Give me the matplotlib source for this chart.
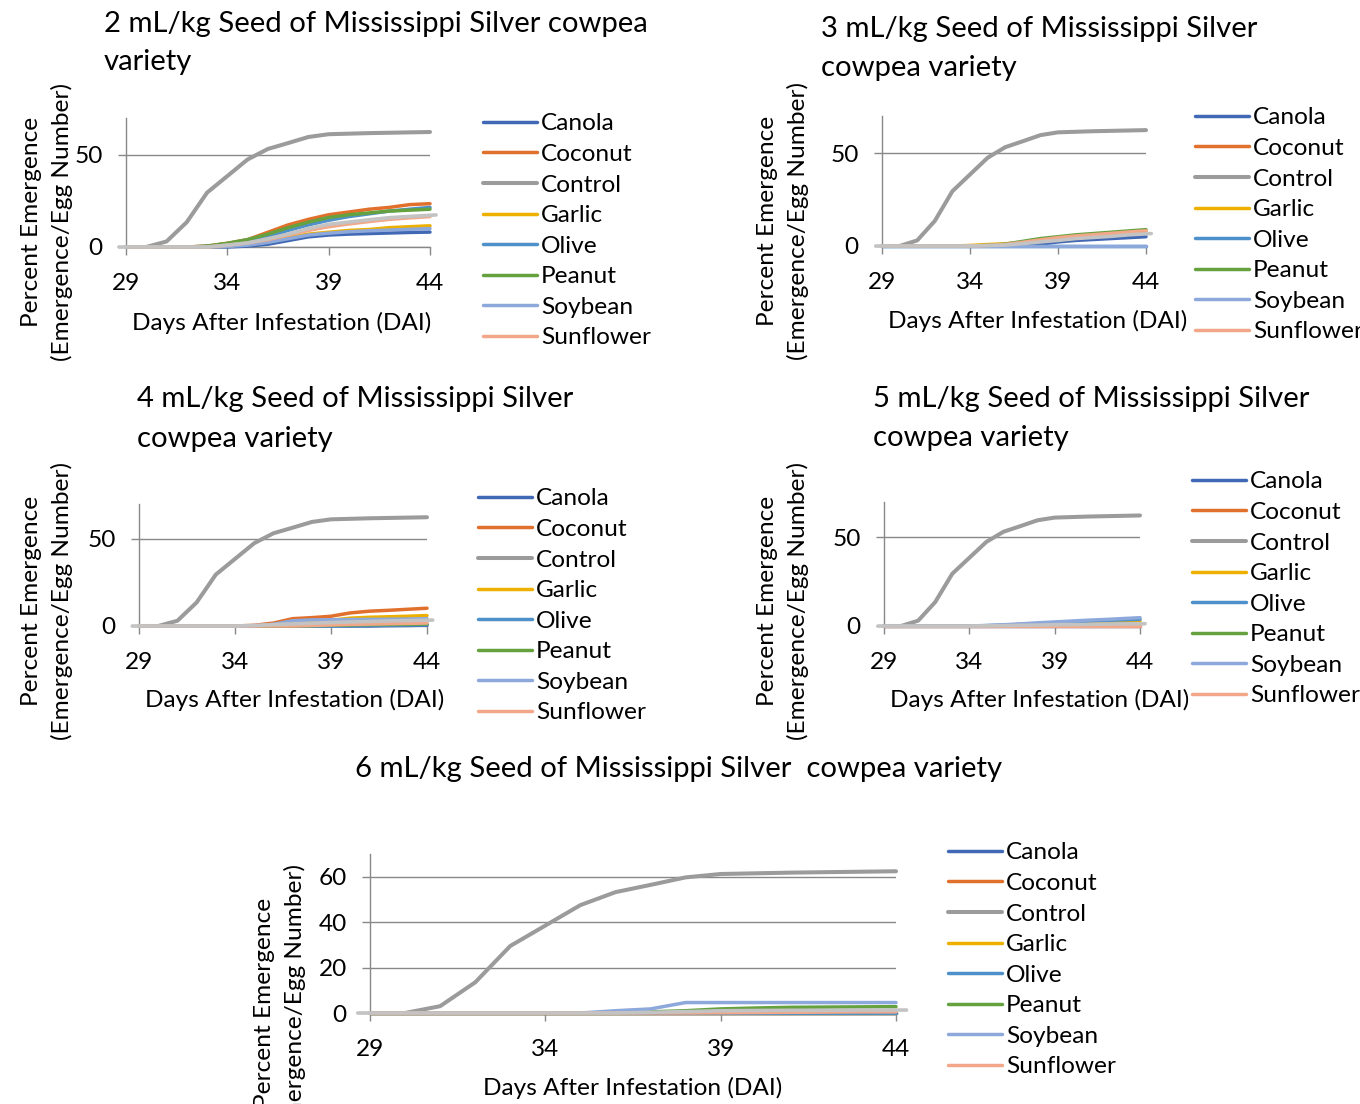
import numpy as np
import matplotlib
matplotlib.use("Agg")
import matplotlib.pyplot as plt
from matplotlib.textpath import TextPath
from matplotlib.font_manager import FontProperties

# ---------------- data ----------------
days = [29, 30, 31, 32, 33, 34, 35, 36, 37, 38, 39, 40, 41, 42, 43, 44]
series_names = ["Canola", "Coconut", "Control", "Garlic", "Olive", "Peanut", "Soybean", "Sunflower"]
control = [0, 0, 3.0, 13.5, 29.5, 38.5, 47.5, 53.2, 56.4, 59.7, 61.2, 61.5, 61.8, 62.0, 62.2, 62.4]

# extra unlabeled light-grey series (appears in the charts, not in legend)
extra_days = [28.65, 30, 31, 32, 33, 34, 35, 36, 37, 38, 39, 40, 41, 42, 43, 44.3]

p2_canola    = [0, 0, 0, 0, 0, 0, 0.5, 1.5, 3.5, 5.5, 6.5, 7.0, 7.3, 7.6, 7.9, 8.1]
p2_coconut   = [0, 0, 0, 0, 0.5, 2.0, 4.0, 8.0, 12.0, 15.0, 17.5, 19.0, 20.5, 21.5, 23.0, 23.5]
p2_garlic    = [0, 0, 0, 0, 0, 0.5, 1.5, 3.0, 5.0, 7.0, 8.0, 9.0, 9.5, 10.5, 11.0, 11.5]
p2_olive     = [0, 0, 0, 0, 0.3, 1.5, 3.0, 5.5, 9.0, 12.0, 14.5, 16.5, 18.0, 19.5, 20.5, 21.5]
p2_peanut    = [0, 0, 0, 0, 0.5, 2.0, 4.0, 7.0, 10.5, 13.5, 16.0, 17.5, 18.5, 19.5, 20.0, 20.5]
p2_soybean   = [0, 0, 0, 0, 0, 0.3, 1.0, 2.5, 4.5, 6.5, 7.5, 8.3, 8.8, 9.2, 9.6, 10.0]
p2_sunflower = [0, 0, 0, 0, 0, 1.0, 2.2, 4.0, 6.5, 9.0, 11.0, 12.5, 13.8, 15.0, 15.8, 16.5]
p2_extra     = [0, 0, 0, 0, 0, 1.0, 2.2, 4.5, 7.0, 10.0, 12.3, 13.5, 14.8, 15.9, 16.6, 17.4]

p3_canola    = [0, 0, 0, 0, 0, 0, 0, 0, 0, 1.0, 2.2, 3.0, 3.5, 4.0, 4.5, 5.0]
p3_coconut   = [0, 0, 0, 0, 0, 0, 0.3, 0.8, 2.0, 3.2, 4.3, 5.2, 5.9, 6.5, 7.0, 7.5]
p3_garlic    = [0, 0, 0, 0, 0, 0.3, 0.8, 1.2, 2.0, 3.0, 4.0, 4.8, 5.5, 6.0, 6.5, 7.0]
p3_olive     = [0, 0, 0, 0, 0, 0, 0, 0, 0, 0, 0, 0, 0, 0, 0, 0]
p3_peanut    = [0, 0, 0, 0, 0, 0, 0.3, 1.0, 2.5, 4.0, 5.0, 6.0, 6.7, 7.4, 8.1, 8.8]
p3_soybean   = [0, 0, 0, 0, 0, 0, 0, 0, 0, 0, 0, 0, 0, 0, 0, 0]
p3_sunflower = [0, 0, 0, 0, 0, 0, 0.3, 0.8, 2.0, 3.3, 4.5, 5.4, 6.1, 6.8, 7.5, 8.2]
p3_extra     = [0, 0, 0, 0, 0, 0, 0.2, 0.5, 1.3, 2.2, 3.0, 4.0, 4.6, 5.2, 6.0, 6.7]

p4_canola    = [0, 0, 0, 0, 0, 0, 0, 0, 0, 0, 0, 0, 0, 0.2, 0.3, 0.5]
p4_coconut   = [0, 0, 0, 0, 0, 0, 0.4, 1.7, 4.2, 4.8, 5.6, 7.5, 8.5, 9.0, 9.6, 10.2]
p4_garlic    = [0, 0, 0, 0, 0, 0, 0, 0.5, 1.5, 2.5, 3.3, 4.5, 5.0, 5.3, 5.6, 6.0]
p4_olive     = [0, 0, 0, 0, 0, 0, 0, 0, 0, 0, 0, 0.2, 0.3, 0.5, 0.6, 0.8]
p4_peanut    = [0, 0, 0, 0, 0, 0, 0, 0, 0, 0.2, 0.4, 0.6, 0.8, 0.9, 1.0, 1.2]
p4_soybean   = [0, 0, 0, 0, 0, 0, 0, 1.0, 3.0, 3.5, 3.6, 3.7, 3.8, 3.9, 4.0, 4.2]
p4_sunflower = [0, 0, 0, 0, 0, 0, 0, 0, 0, 0.3, 0.6, 0.9, 1.1, 1.3, 1.5, 1.7]
p4_extra     = [0, 0, 0, 0, 0, 0, 0.3, 0.8, 1.2, 1.6, 2.0, 2.3, 2.6, 2.9, 3.1, 3.4]

p5_canola    = [0, 0, 0, 0, 0, 0, 0, 0, 0, 0, 0, 0, 0, 0, 0, 0]
p5_coconut   = [0, 0, 0, 0, 0, 0, 0, 0, 0, 0.1, 0.2, 0.3, 0.3, 0.4, 0.4, 0.5]
p5_garlic    = [0, 0, 0, 0, 0, 0, 0, 0, 0, 0.3, 0.7, 1.1, 1.5, 1.9, 2.3, 2.8]
p5_olive     = [0, 0, 0, 0, 0, 0, 0.2, 0.5, 0.9, 1.4, 1.9, 2.3, 2.8, 3.2, 3.5, 3.8]
p5_peanut    = [0, 0, 0, 0, 0, 0, 0, 0, 0.1, 0.2, 0.4, 0.5, 0.6, 0.8, 0.9, 1.0]
p5_soybean   = [0, 0, 0, 0, 0, 0, 0.3, 0.7, 1.2, 1.8, 2.3, 2.8, 3.3, 3.7, 4.2, 4.7]
p5_sunflower = [0, 0, 0, 0, 0, 0, 0, 0, 0, 0, 0, 0, 0, 0, 0, 0]
p5_extra     = [0, 0, 0, 0, 0, 0, 0.1, 0.2, 0.4, 0.5, 0.7, 0.8, 0.9, 1.1, 1.2, 1.3]

p6_canola    = [0, 0, 0, 0, 0, 0, 0, 0, 0, 0, 0, 0, 0, 0, 0, 0]
p6_coconut   = [0, 0, 0, 0, 0, 0, 0, 0, 0, 0, 0, 0, 0, 0, 0, 0]
p6_garlic    = [0, 0, 0, 0, 0, 0, 0, 0, 0, 0, 0, 0, 0, 0, 0, 0]
p6_olive     = [0, 0, 0, 0, 0, 0, 0, 0, 0, 0, 0, 0, 0, 0, 0, 0]
p6_peanut    = [0, 0, 0, 0, 0, 0, 0, 0, 0.5, 1.0, 1.8, 2.2, 2.5, 2.6, 2.7, 2.8]
p6_soybean   = [0, 0, 0, 0, 0, 0, 0, 1.0, 1.8, 4.6, 4.6, 4.6, 4.6, 4.6, 4.6, 4.6]
p6_sunflower = [0, 0, 0, 0, 0, 0, 0, 0, 0, 0, 0.1, 0.2, 0.3, 0.4, 0.5, 0.5]
p6_extra     = [0, 0, 0, 0, 0, 0, 0, 0, 0.3, 0.6, 1.0, 1.1, 1.2, 1.2, 1.3, 1.3]

titles = [
    ["2 mL/kg Seed of Mississippi Silver cowpea", "variety"],
    ["3 mL/kg Seed of Mississippi Silver", "cowpea variety"],
    ["4 mL/kg Seed of Mississippi Silver", "cowpea variety"],
    ["5 mL/kg Seed of Mississippi Silver", "cowpea variety"],
    ["6 mL/kg Seed of Mississippi Silver  cowpea variety"],
]
xlabel = "Days After Infestation (DAI)"
ylabel = "Percent Emergence\n(Emergence/Egg Number)"
xticks = [29, 34, 39, 44]

panels = [
    dict(canola=p2_canola, coconut=p2_coconut, garlic=p2_garlic, olive=p2_olive,
         peanut=p2_peanut, soybean=p2_soybean, sunflower=p2_sunflower, extra=p2_extra),
    dict(canola=p3_canola, coconut=p3_coconut, garlic=p3_garlic, olive=p3_olive,
         peanut=p3_peanut, soybean=p3_soybean, sunflower=p3_sunflower, extra=p3_extra),
    dict(canola=p4_canola, coconut=p4_coconut, garlic=p4_garlic, olive=p4_olive,
         peanut=p4_peanut, soybean=p4_soybean, sunflower=p4_sunflower, extra=p4_extra),
    dict(canola=p5_canola, coconut=p5_coconut, garlic=p5_garlic, olive=p5_olive,
         peanut=p5_peanut, soybean=p5_soybean, sunflower=p5_sunflower, extra=p5_extra),
    dict(canola=p6_canola, coconut=p6_coconut, garlic=p6_garlic, olive=p6_olive,
         peanut=p6_peanut, soybean=p6_soybean, sunflower=p6_sunflower, extra=p6_extra),
]

# ---------------- style ----------------
W, H, DPI = 1360, 1104, 100
FAMILY = ["Lato", "DejaVu Sans"]
plt.rcParams["font.family"] = FAMILY
colors = {
    "Canola": "#4068B4", "Coconut": "#E0702C", "Control": "#9B9B9B", "Garlic": "#EDB000",
    "Olive": "#4E90CA", "Peanut": "#65A23F", "Soybean": "#8DA8DA", "Sunflower": "#F2A888",
}
extra_color = "#C3C3C3"
axis_color = "#888888"


def text_px(s, size):
    tp = TextPath((0, 0), s, size=size, prop=FontProperties(family=FAMILY[0]))
    return tp.get_extents().width * DPI / 72.0


FS = 20 * 295.0 / text_px(xlabel, 20)          # axis / tick / legend size
FT = 20 * 541.0 / text_px(titles[0][0], 20)    # title size
FS_PX = FS * DPI / 72.0

fig = plt.figure(figsize=(W / DPI, H / DPI), dpi=DPI)


def fx(px):
    return px / W


def fy(py):
    return 1 - py / H


# layout in pixels: x at 29, x at 44, y at 0, y at 70
layout = [
    dict(x0=126, x1=430, y0=247, yt=118, title_x=104, title_y=[24, 62], ha="left",
         yl_x=47, yl_y=222, xl_x=282, xl_y=323, leg_x=483, leg_y=122, yticks=[0, 50]),
    dict(x0=882, x1=1146, y0=246, yt=116, title_x=821, title_y=[29, 68], ha="left",
         yl_x=783, yl_y=221, xl_x=1038, xl_y=321, leg_x=1195, leg_y=116, yticks=[0, 50]),
    dict(x0=139, x1=427, y0=626, yt=504, title_x=137, title_y=[399, 439], ha="left",
         yl_x=47, yl_y=601, xl_x=295, xl_y=700, leg_x=478, leg_y=497, yticks=[0, 50]),
    dict(x0=884, x1=1140, y0=626, yt=502, title_x=873, title_y=[399, 438], ha="left",
         yl_x=783, yl_y=601, xl_x=1040, xl_y=700, leg_x=1192, leg_y=480, yticks=[0, 50]),
    dict(x0=370, x1=896, y0=1013, yt=854, title_x=679, title_y=[769], ha="center",
         yl_x=280, yl_y=1003, xl_x=633, xl_y=1088, leg_x=948, leg_y=851, yticks=[0, 20, 40, 60]),
]

tick_len = 8 * 72.0 / DPI

for p, lay, ttl in zip(panels, layout, titles):
    ax = fig.add_axes([fx(lay["x0"]), fy(lay["y0"]), (lay["x1"] - lay["x0"]) / W,
                       (lay["y0"] - lay["yt"]) / H])
    ax.set_xlim(29, 44)
    ax.set_ylim(0, 70)
    ax.patch.set_alpha(0)
    for s in ["top", "right"]:
        ax.spines[s].set_visible(False)
    for s in ["left", "bottom"]:
        ax.spines[s].set_color(axis_color)
        ax.spines[s].set_linewidth(1.0)
    ax.set_xticks(xticks)
    ax.set_yticks(lay["yticks"])
    ax.tick_params(axis="both", direction="out", length=tick_len, width=1.0,
                   color=axis_color, labelsize=FS, labelcolor="black")
    ax.tick_params(axis="x", pad=13)
    ax.tick_params(axis="y", pad=11)
    ax.yaxis.grid(True, color=axis_color, linewidth=1.0)
    ax.set_axisbelow(True)

    vals = {
        "Canola": p["canola"], "Coconut": p["coconut"], "Control": control,
        "Garlic": p["garlic"], "Olive": p["olive"], "Peanut": p["peanut"],
        "Soybean": p["soybean"], "Sunflower": p["sunflower"],
    }
    handles = []
    for name in series_names:
        lw = 2.9 if name == "Control" else 2.5
        (ln,) = ax.plot(days, vals[name], color=colors[name], lw=lw,
                        solid_capstyle="round", solid_joinstyle="round",
                        label=name, clip_on=False, zorder=3)
        handles.append(ln)
    ax.plot(extra_days, p["extra"], color=extra_color, lw=2.6,
            solid_capstyle="round", solid_joinstyle="round", clip_on=False, zorder=4)

    # titles
    for line, ty in zip(ttl, lay["title_y"]):
        fig.text(fx(lay["title_x"]), fy(ty), line, ha=lay["ha"], va="center",
                 fontsize=FT, color="black")
    # axis labels
    fig.text(fx(lay["xl_x"]), fy(lay["xl_y"]), xlabel, ha="center", va="center",
             fontsize=FS, color="black")
    fig.text(fx(lay["yl_x"]), fy(lay["yl_y"]), ylabel, ha="center", va="center",
             rotation=90, fontsize=FS, linespacing=1.45, multialignment="center",
             color="black")

    # legend
    leg = ax.legend(handles=handles, loc="upper left",
                    bbox_to_anchor=(fx(lay["leg_x"]), fy(lay["leg_y"] - FS_PX * 0.6 + 6)),
                    bbox_transform=fig.transFigure, frameon=False, fontsize=FS,
                    handlelength=54 / FS_PX, handletextpad=4 / FS_PX,
                    labelspacing=9.5 / FS_PX, borderpad=0, borderaxespad=0, handleheight=0.7)
    for t in leg.get_texts():
        t.set_color("black")

fig.savefig("out.png", dpi=DPI)
